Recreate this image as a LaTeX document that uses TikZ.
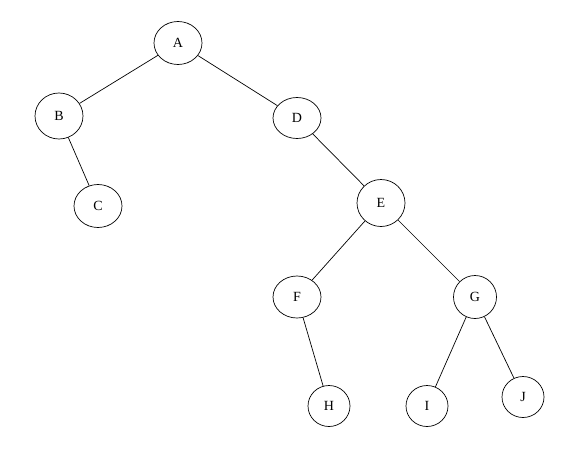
\documentclass[tikz,border=0pt]{standalone}
\usepackage{fontspec}
\setmainfont{Liberation Serif}
\usepackage{tikz}
\usetikzlibrary{shapes.geometric}

\begin{document}
\begin{tikzpicture}[scale=1, line width=0.7pt, every node/.style={draw, ellipse, inner sep=0pt, minimum width=48pt, minimum height=43pt, font=\fontsize{14}{16}\selectfont}, leaf/.style={minimum width=42pt, minimum height=41pt}]
	\useasboundingbox (0,0) rectangle (580pt,-450pt);

	\node(A) at (178pt,-43pt){A};
	\node[below of=A, node distance=73pt, xshift=-119pt, minimum height=46pt](B){B};
	\node[below of=B, node distance=90pt, xshift=39pt](C){C};
	\node[below of=A, node distance=75pt, xshift=119pt, minimum height=41pt](D){D};
	\node[below of=D, node distance=85pt, xshift=84pt, minimum height=47pt](E){E};
	\node[below of=E, node distance=94pt, xshift=-84pt, minimum height=42pt](F){F};
	\node[below of=E, node distance=94pt, xshift=94pt, leaf, minimum width=43pt, minimum height=43pt](G){G};
	\node[below of=F, node distance=109pt, xshift=32pt, leaf](H){H};
	\node[below of=G, node distance=109pt, xshift=-48pt, leaf](I){I};
	\node[below of=G, node distance=100pt, xshift=48pt, leaf](J){J};

	\draw (A) -- (B);
	\draw (B) -- (C);
	\draw (A) -- (D);
	\draw (D) -- (E);
	\draw (E) -- (F);
	\draw (E) -- (G);
	\draw (F) -- (H);
	\draw (G) -- (I);
	\draw (G) -- (J);
\end{tikzpicture}
\end{document}
